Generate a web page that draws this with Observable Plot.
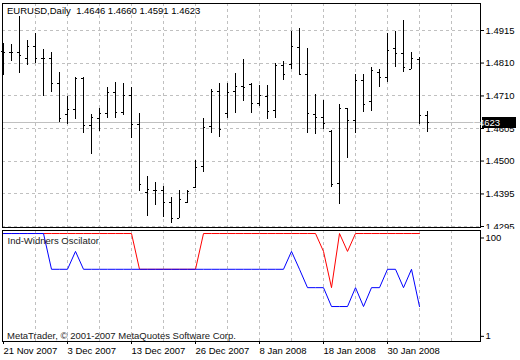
<!DOCTYPE html>
<html><head><meta charset="utf-8">
<script src="https://cdn.jsdelivr.net/npm/d3@7"></script>
<script src="https://cdn.jsdelivr.net/npm/@observablehq/plot@0.6"></script>
<style>
html,body{margin:0;padding:0;background:#fff;}
#wrap{position:relative;width:520px;height:360px;overflow:hidden;background:#fff;}
#main,#osc{position:absolute;left:0;}
#main{top:0px;}
#osc{top:229px;}
svg{display:block;}
</style></head>
<body><div id="wrap"><div id="main"></div><div id="osc"></div></div>
<script>
// ---- data (EURUSD daily bars, 21 Nov 2007 ... 6 Feb 2008) ----
const openP  = [1.4850,1.4844,1.4844,1.4826,1.4865,1.4828,1.4828,1.4748,1.4649,1.4665,
                1.4764,1.4614,1.4636,1.4651,1.4720,1.4656,1.4708,1.4617,1.4403,1.4409,
                1.4409,1.4372,1.4319,1.4372,1.4417,1.4485,1.4611,1.4722,1.4651,1.4722,
                1.4739,1.4744,1.4685,1.4706,1.4662,1.4804,1.4807,1.4860,1.4776,1.4648,
                1.4639,1.4596,1.4430,1.4667,1.4630,1.4757,1.4690,1.4783,1.4765,1.4857,
                1.4843,1.4792,1.4822,1.4646];
const highP  = [1.4874,1.4871,1.4959,1.4883,1.4907,1.4854,1.4844,1.4783,1.4706,1.4765,
                1.4767,1.4649,1.4667,1.4736,1.4751,1.4746,1.4736,1.4651,1.4453,1.4433,
                1.4422,1.4388,1.4409,1.4409,1.4504,1.4636,1.4728,1.4748,1.4748,1.4780,
                1.4823,1.4746,1.4741,1.4741,1.4812,1.4817,1.4913,1.4920,1.4857,1.4712,
                1.4694,1.4599,1.4680,1.4667,1.4775,1.4776,1.4797,1.4791,1.4906,1.4913,
                1.4947,1.4845,1.4829,1.4660];
const lowP   = [1.4773,1.4817,1.4780,1.4804,1.4811,1.4706,1.4720,1.4625,1.4619,1.4632,
                1.4588,1.4523,1.4596,1.4638,1.4638,1.4646,1.4574,1.4407,1.4327,1.4362,
                1.4324,1.4305,1.4319,1.4369,1.4414,1.4467,1.4588,1.4578,1.4638,1.4653,
                1.4691,1.4653,1.4675,1.4634,1.4638,1.4757,1.4792,1.4775,1.4590,1.4586,
                1.4601,1.4419,1.4364,1.4509,1.4588,1.4657,1.4660,1.4736,1.4751,1.4799,
                1.4783,1.4791,1.4618,1.4591];
const closeP = [1.4844,1.4844,1.4836,1.4865,1.4826,1.4828,1.4748,1.4637,1.4665,1.4763,
                1.4614,1.4639,1.4653,1.4720,1.4656,1.4708,1.4617,1.4428,1.4411,1.4409,
                1.4370,1.4319,1.4380,1.4406,1.4481,1.4607,1.4722,1.4602,1.4720,1.4739,
                1.4736,1.4683,1.4708,1.4660,1.4804,1.4776,1.4864,1.4776,1.4651,1.4641,
                1.4620,1.4428,1.4667,1.4630,1.4757,1.4680,1.4788,1.4765,1.4852,1.4843,
                1.4799,1.4825,1.4646,1.4623];
// Ind-Widners Oscilator (no value on the last bar)
const oscBlue = [104.5,104.5,104.5,104.5,104.5,104.5,68.5,68.5,68.5,86.5,
                 68.5,68.5,68.5,68.5,68.5,68.5,68.5,68.5,68.5,68.5,
                 68.5,68.5,68.5,68.5,68.5,68.5,68.5,68.5,68.5,68.5,
                 68.5,68.5,68.5,68.5,68.5,68.5,86.5,68.5,50,50,
                 50,31,31,31,50,31,50,50,68.5,68.5,
                 50,68.5,31];
const oscRed  = [104.5,104.5,104.5,104.5,104.5,104.5,104.5,104.5,104.5,104.5,
                 104.5,104.5,104.5,104.5,104.5,104.5,104.5,68.5,68.5,68.5,
                 68.5,68.5,68.5,68.5,68.5,104.5,104.5,104.5,104.5,104.5,
                 104.5,104.5,104.5,104.5,104.5,104.5,104.5,104.5,104.5,104.5,
                 86.5,50,104.5,86.5,104.5,104.5,104.5,104.5,104.5,104.5,
                 104.5,104.5,104.5];
// axes
const xTickIdx    = [0, 8, 16, 24, 32, 40, 48];
const xTickLabels = ["21 Nov 2007","3 Dec 2007","13 Dec 2007","26 Dec 2007","8 Jan 2008","18 Jan 2008","30 Jan 2008"];
const xGridIdx    = [4, 8, 12, 16, 20, 24, 28, 32, 36, 40, 44, 48, 52, 56];
const yTicks      = [1.4915, 1.4812, 1.4708, 1.4605, 1.4502, 1.4398, 1.4295];
const yTickLabels = ["1.4915","1.4810","1.4710","1.4605","1.4500","1.4395","1.4295"];
const oscTicks      = [100, 1];
const oscTickLabels = ["100", "1"];
const titleText = "EURUSD,Daily\u00a0 1.4646 1.4660 1.4591 1.4623";
const oscTitle  = "Ind-Widners Oscilator";
const copyright = "MetaTrader, \u00a9 2001-2007 MetaQuotes Software Corp.";

// ---- build ----
const bars = openP.map((o, i) => ({i, open: o, high: highP[i], low: lowP[i], close: closeP[i]}));
const lastClose = closeP[closeP.length - 1];
const yLab = new Map(yTicks.map((t, i) => [t, yTickLabels[i]]));
const xLab = new Map(xTickIdx.map((t, i) => [t, xTickLabels[i]]));
const oLab = new Map(oscTicks.map((t, i) => [t, oscTickLabels[i]]));

const FONT = "'Liberation Sans', Arial, sans-serif";
const baseStyle = {fontFamily: FONT, fontSize: "9.5px", color: "black", background: "white", overflow: "visible"};
const X_DOMAIN = [-0.125, 59.625];
const GRID = {stroke: "#c0c0c0", strokeDasharray: "3,3", strokeOpacity: 1, shapeRendering: "crispEdges"};
const BAR = {stroke: "black", strokeWidth: 1, shapeRendering: "crispEdges"};

const main = Plot.plot({
  width: 520, height: 229,
  marginTop: 3, marginBottom: 2, marginLeft: 2, marginRight: 40,
  style: baseStyle,
  x: {domain: X_DOMAIN, axis: null},
  y: {domain: [1.429184, 1.500041], axis: null},
  marks: [
    Plot.ruleX(xGridIdx, {x: d => d, ...GRID}),
    Plot.ruleY(yTicks, {y: d => d, ...GRID}),
    Plot.ruleY([lastClose], {y: d => d, stroke: "#c0c0c0", shapeRendering: "crispEdges"}),
    Plot.ruleX(bars, {x: "i", y1: "low", y2: "high", ...BAR}),
    Plot.ruleY(bars, {y: "open", x1: d => d.i - 0.3, x2: d => d.i, ...BAR}),
    Plot.ruleY(bars, {y: "close", x1: d => d.i, x2: d => d.i + 0.3, ...BAR}),
    Plot.frame({stroke: "black", shapeRendering: "crispEdges"}),
    Plot.axisY(yTicks, {anchor: "right", tickSize: 3, tickPadding: 2, tickFormat: d => yLab.get(d), label: null}),
    Plot.text([titleText], {text: d => d, frameAnchor: "top-left", dx: 4.5, dy: 7.5, lineAnchor: "middle", textAnchor: "start", fill: "black"})
  ]
});
document.getElementById("main").appendChild(main);

// current price tag on the right axis, positioned through the y scale
const yPos = main.scale("y").apply(lastClose) + 0.5;
const tag = d3.select(main).append("g");
tag.append("rect").attr("x", 482).attr("y", Math.round(yPos) - 6).attr("width", 34).attr("height", 11).attr("fill", "black");
tag.append("text").attr("x", 485.5).attr("y", yPos).attr("dy", "0.35em")
  .attr("fill", "white").attr("font-family", FONT).attr("font-size", "9.5px").text(lastClose.toFixed(4));

const osc = Plot.plot({
  width: 520, height: 131,
  marginTop: 1, marginBottom: 19, marginLeft: 2, marginRight: 40,
  style: baseStyle,
  x: {domain: X_DOMAIN, axis: null},
  y: {domain: [-4.2, 107.55], axis: null},
  marks: [
    Plot.ruleX(xGridIdx, {x: d => d, ...GRID}),
    Plot.line(oscRed, {x: (d, i) => i, y: d => d, stroke: "#ff0000", strokeWidth: 1}),
    Plot.line(oscBlue, {x: (d, i) => i, y: d => d, stroke: "#0000ff", strokeWidth: 1}),
    Plot.frame({stroke: "black", shapeRendering: "crispEdges"}),
    Plot.axisY(oscTicks, {anchor: "right", tickSize: 3, tickPadding: 2, tickFormat: d => oLab.get(d), label: null}),
    Plot.axisX(xTickIdx, {anchor: "bottom", tickSize: 3, tickPadding: 3, textAnchor: "start", tickFormat: d => xLab.get(d), label: null}),
    Plot.text([oscTitle], {text: d => d, frameAnchor: "top-left", dx: 5, dy: 10.5, lineAnchor: "middle", textAnchor: "start", fill: "#202020"}),
    Plot.text([copyright], {text: d => d, frameAnchor: "bottom-left", dx: 4.5, dy: -6, lineAnchor: "middle", textAnchor: "start", fill: "#202020"})
  ]
});
document.getElementById("osc").appendChild(osc);
</script>
</body></html>
